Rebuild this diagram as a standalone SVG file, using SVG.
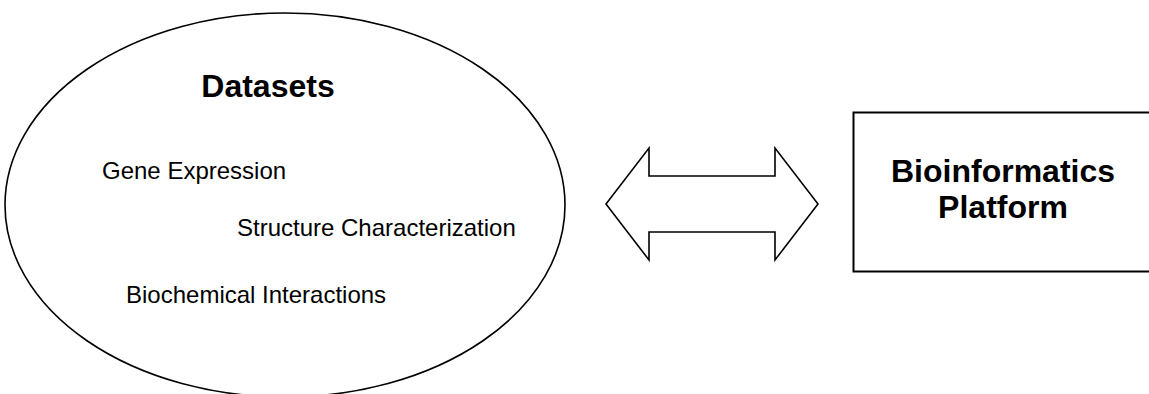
<svg xmlns="http://www.w3.org/2000/svg" width="1149" height="394" viewBox="0 0 1149 394">
<style>
.shape{fill:#fff;stroke:#000;stroke-width:1.6}
.t{font-family:"Liberation Sans",Arial,sans-serif;fill:#000}
.b{font-weight:bold;font-size:32px}
.r{font-size:24px}
</style>
<rect width="1149" height="394" fill="#fff"/>
<g id="datasets">
<ellipse class="shape" cx="285" cy="205" rx="280" ry="192"/>
<text class="t b" x="268" y="97" text-anchor="middle">Datasets</text>
<text class="t r" x="102" y="179">Gene Expression</text>
<text class="t r" x="237" y="236">Structure Characterization</text>
<text class="t r" x="126" y="303">Biochemical Interactions</text>
</g>
<g id="connectors">
<polygon class="shape" points="606,204 649,148 649,176 775,176 775,148 818,204 775,260 775,232 649,232 649,260"/>
</g>
<g id="platform">
<rect class="shape" x="853.5" y="112.5" width="310" height="159" style="stroke-width:2"/>
<text class="t b" x="1003" y="182" text-anchor="middle">Bioinformatics</text>
<text class="t b" x="1003" y="218" text-anchor="middle">Platform</text>
</g>
</svg>
